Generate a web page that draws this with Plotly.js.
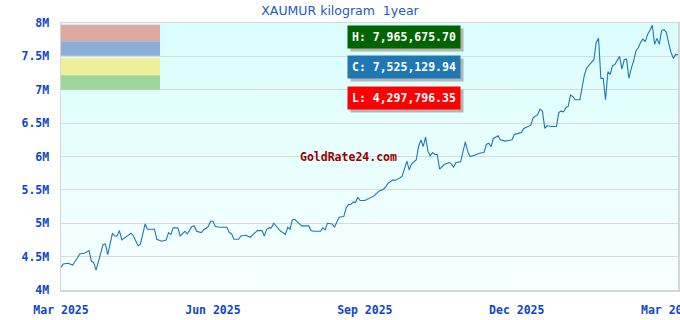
<!DOCTYPE html>
<html>
<head>
<meta charset="utf-8">
<script src="https://cdn.plot.ly/plotly-3.0.1.min.js"></script>
<style>
  html, body { margin: 0; padding: 0; background: #ffffff; }
  #wrap { position: relative; width: 680px; height: 320px; overflow: hidden; }
  #bg { position: absolute; left: 61px; top: 23px; width: 617px; height: 267px;
        background: linear-gradient(to bottom, #dafdfd 0%, #f7ffff 100%); }
  #chart { position: absolute; left: 0; top: 0; width: 680px; height: 320px; }
</style>
</head>
<body>
<div id="wrap"><div id="bg"></div><div id="chart"></div></div>
<script>
// Trading-day index since 3 Mar 2025 (weekdays)
const tradingDay = [0,1,3,5,7,8,10,12,13,14,15,16,18,19,20,22,23,24,25,26,28,30,31,33,34,36,37,38,40,41,43,45,46,47,48,50,51,53,54,56,57,58,60,61,63,64,65,66,68,71,72,73,74,76,77,79,81,84,86,87,88,89,90,91,94,95,96,97,98,99,100,102,103,106,107,108,111,112,113,114,116,117,118,119,121,122,123,124,125,126,127,128,130,131,132,134,136,138,139,140,142,143,145,146,148,149,150,152,153,154,155,156,157,158,159,160,161,162,164,166,167,168,169,171,172,173,174,175,177,179,181,182,183,184,185,187,188,190,193,194,196,197,198,200,201,202,204,205,206,207,208,210,212,213,214,215,216,217,218,219,220,222,223,224,225,227,228,229,230,231,232,233,234,235,236,237,238,239,240,241,242,243,244,245,246,247,248,249,250,251,252,253,254,255,256,257,258,259,260,261,262,263,264];
const price = [4.34e6,4.39e6,4.40e6,4.375e6,4.48e6,4.54e6,4.55e6,4.59e6,4.43e6,4.41e6,4.2978e6,4.43e6,4.68e6,4.69e6,4.53e6,4.85e6,4.81e6,4.81e6,4.89e6,4.75e6,4.80e6,4.85e6,4.81e6,4.66e6,4.69e6,4.99e6,4.91e6,4.91e6,4.91e6,4.76e6,4.73e6,4.75e6,4.86e6,4.83e6,4.93e6,4.93e6,4.81e6,4.88e6,4.84e6,4.95e6,4.96e6,4.88e6,4.86e6,4.90e6,4.95e6,5.03e6,5.03e6,4.95e6,4.94e6,4.94e6,4.86e6,4.84e6,4.76e6,4.76e6,4.81e6,4.82e6,4.79e6,4.89e6,4.89e6,4.81e6,4.91e6,4.93e6,4.93e6,5.00e6,4.88e6,4.86e6,4.83e6,4.94e6,4.91e6,5.05e6,5.06e6,4.99e6,4.96e6,4.96e6,4.89e6,4.88e6,4.88e6,4.93e6,4.90e6,5.00e6,4.99e6,4.94e6,5.03e6,5.09e6,5.10e6,5.23e6,5.28e6,5.28e6,5.32e6,5.31e6,5.39e6,5.34e6,5.34e6,5.36e6,5.38e6,5.41e6,5.48e6,5.51e6,5.55e6,5.60e6,5.65e6,5.64e6,5.68e6,5.71e6,5.93e6,5.80e6,5.89e6,5.95e6,6.15e6,6.25e6,6.15e6,6.29e6,6.08e6,6.01e6,6.06e6,6.03e6,6.03e6,5.81e6,5.88e6,5.91e6,5.89e6,5.84e6,5.91e6,5.92e6,6.07e6,6.22e6,6.08e6,6.00e6,6.02e6,6.05e6,6.06e6,6.18e6,6.20e6,6.15e6,6.27e6,6.31e6,6.25e6,6.23e6,6.25e6,6.33e6,6.35e6,6.36e6,6.42e6,6.46e6,6.47e6,6.58e6,6.63e6,6.71e6,6.68e6,6.42e6,6.46e6,6.45e6,6.45e6,6.66e6,6.68e6,6.67e6,6.73e6,6.75e6,6.92e6,6.90e6,6.85e6,6.85e6,7.03e6,7.23e6,7.33e6,7.41e6,7.45e6,7.71e6,7.77e6,7.17e6,7.17e6,6.85e6,7.27e6,7.23e6,7.36e6,7.38e6,7.45e6,7.50e6,7.31e6,7.45e6,7.46e6,7.17e6,7.32e6,7.43e6,7.58e6,7.63e6,7.71e6,7.76e6,7.72e6,7.83e6,7.89e6,7.9656757e6,7.68e6,7.77e6,7.68e6,7.89e6,7.90e6,7.86e6,7.70e6,7.56e6,7.47e6,7.53e6,7.5251299e6];

const xTickVals = [0, 65, 130, 195, 260];
const xTickText = ["Mar 2025", "Jun 2025", "Sep 2025", "Dec 2025", "Mar 2026"];
const yTickVals = [4e6, 4.5e6, 5e6, 5.5e6, 6e6, 6.5e6, 7e6, 7.5e6, 8e6];
const yTickText = ["4M", "4.5M", "5M", "5.5M", "6M", "6.5M", "7M", "7.5M", "8M"];

const statLabels = ["H: 7,965,675.70", "C: 7,525,129.94", "L: 4,297,796.35"];
const statColors = ["#006400", "#1f77b4", "#ff0000"];
const statY = [0.9468, 0.8363, 0.7202];
const legendColors = ["#dfa9a1", "#8aaed5", "#eeee99", "#9ed59a"];
const legendY = [[0.9318, 0.9936], [0.8775, 0.9318], [0.8064, 0.8682], [0.7502, 0.8045]];

const tickFont = {family: "DejaVu Sans Mono", size: 11.5, color: "#0d47c9", weight: "bold"};
const monoBold = "DejaVu Sans Mono";

const annotations = [];
statLabels.forEach((t, i) => {
  // drop shadow: same width (monospace blanks), offset down-right
  annotations.push({xref: "paper", yref: "paper", x: 0.5567, y: statY[i], xanchor: "center", yanchor: "middle",
    xshift: 3, yshift: -3,
    text: "<b>" + "&nbsp;".repeat(t.length) + "</b>", showarrow: false, bgcolor: "#b5b5b5", borderpad: 4,
    font: {family: monoBold, size: 11.5, color: "#b5b5b5"}});
  annotations.push({xref: "paper", yref: "paper", x: 0.5567, y: statY[i], xanchor: "center", yanchor: "middle",
    text: "<b>" + t + "</b>", showarrow: false, bgcolor: statColors[i], borderpad: 4,
    font: {family: monoBold, size: 11.5, color: "#ffffff"}});
});
annotations.push({xref: "paper", yref: "paper", x: 0.4652, y: 0.498, xanchor: "center", yanchor: "middle",
  showarrow: false, text: "<b>GoldRate24.com</b>", font: {family: monoBold, size: 11.5, color: "#990000"}});

const shapes = legendColors.map((c, i) => ({
  type: "rect", xref: "paper", yref: "paper", x0: 0, x1: 0.1605,
  y0: legendY[i][0], y1: legendY[i][1], fillcolor: c, line: {width: 0}, layer: "above"
}));

const trace = {
  x: tradingDay, y: price, type: "scatter", mode: "lines",
  line: {color: "#1f77b4", width: 1.1}, hoverinfo: "skip"
};

const layout = {
  width: 680, height: 320,
  margin: {l: 61, r: 2, t: 23, b: 30, pad: 0},
  paper_bgcolor: "rgba(0,0,0,0)", plot_bgcolor: "rgba(0,0,0,0)",
  showlegend: false,
  title: {text: "XAUMUR kilogram&nbsp; 1year", xref: "container", x: 0.5, xanchor: "center",
          yref: "container", y: 0.968, yanchor: "middle",
          font: {family: "DejaVu Sans", size: 12.5, color: "#2257d0"}},
  xaxis: {range: [0, 264], tickvals: xTickVals, ticktext: xTickText, showgrid: false,
          zeroline: false, showline: true, mirror: true, linecolor: "#d6d6d6", linewidth: 1.5,
          ticks: "", tickfont: tickFont, ticklabelstandoff: 9, ticklabeloverflow: "allow"},
  yaxis: {range: [4e6, 8e6], tickvals: yTickVals, ticktext: yTickText, showgrid: true,
          gridcolor: "#dadada", gridwidth: 1, zeroline: false, showline: true, mirror: true,
          linecolor: "#d6d6d6", linewidth: 1.5, ticks: "", tickfont: tickFont, ticklabelstandoff: 8},
  shapes: shapes,
  annotations: annotations
};

Plotly.newPlot("chart", [trace], layout, {staticPlot: true, displayModeBar: false});
</script>
</body>
</html>
